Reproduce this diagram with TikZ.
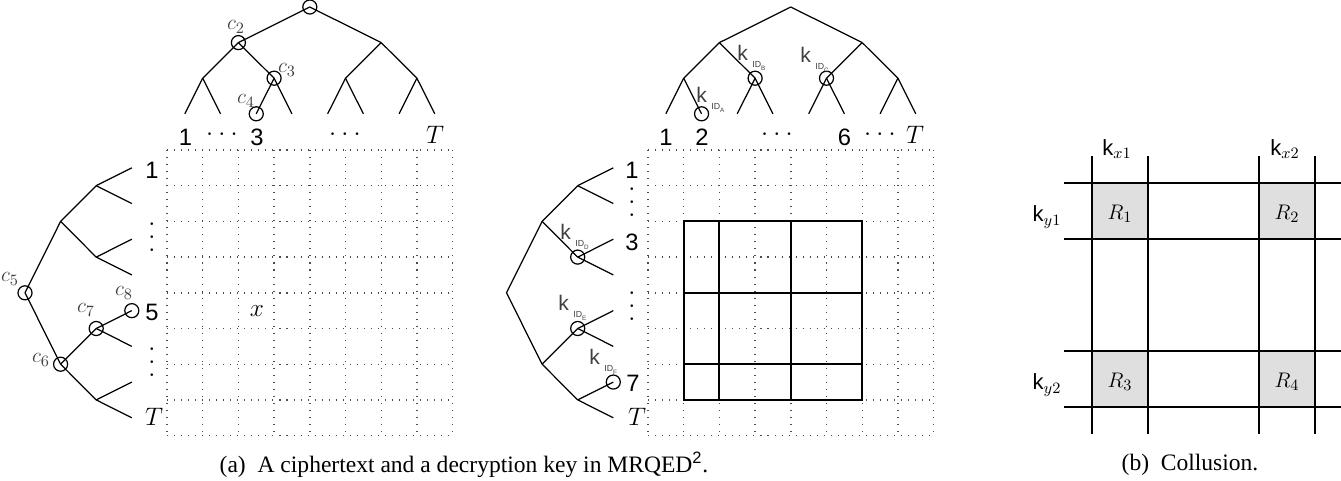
\documentclass[tikz,border=0pt]{standalone}
\usepackage{fontspec}
\setmainfont{Liberation Serif}
\setsansfont{Liberation Sans}

\newcommand{\keyid}[1]{\textsf{k}\hspace{2.5pt}\raisebox{-4.5pt}{\sffamily\fontsize{5}{6}\selectfont ID\raisebox{-1.3pt}{\fontsize{3.6}{4}\selectfont #1}}}
\newcommand{\puntjes}{$\cdot$\hspace{3pt}$\cdot$\hspace{3pt}$\cdot$}
\newcommand{\vpuntjes}{\vbox{\baselineskip=7.6pt\lineskiplimit=-10pt\hbox{$\cdot$}\hbox{$\cdot$}\hbox{$\cdot$}}}

\begin{document}
\begin{tikzpicture}[x=0.02cm, y=-0.02cm,
    tak/.style={line width=0.7pt},
    raster/.style={black!70, line width=0.8pt, dash pattern=on 0.6pt off 3.4pt},
    dik/.style={line width=1.1pt},
    lijn/.style={line width=0.7pt},
    cijfer/.style={font=\sffamily\fontsize{13.5}{16}\selectfont, inner sep=0pt},
    clab/.style={font=\fontsize{13}{15}\selectfont, text=black!75, inner sep=0pt},
    klab/.style={font=\fontsize{12}{14}\selectfont, text=black!75, inner sep=0pt, anchor=base west},
    rlab/.style={font=\fontsize{12.5}{15}\selectfont, inner sep=0pt},
    kop/.style={font=\fontsize{13.4}{15}\selectfont, inner sep=0pt}]
    \useasboundingbox (0,0) rectangle (1341,480);

    % Dotted grids
    \foreach \gx in {167,648} {
        \foreach \k in {0,...,8} {
            \draw[raster] ({\gx+35.7*\k},150) -- ({\gx+35.7*\k},435.6);
            \draw[raster] (\gx,{150+35.7*\k}) -- ({\gx+285.6},{150+35.7*\k});
        }
    }

    % Trees: name/start along leaves/start of depth/turned
    \foreach \t/\u/\v/\r in {A/167/7/0, B/648/7/0, C/150/25/1, D/150/506.5/1} {
        \foreach \d in {0,...,3} {
            \pgfmathtruncatemacro\nn{2^\d-1}
            \foreach \i in {0,...,\nn} {
                \pgfmathsetmacro\pu{\u+35.7*(\i+0.5)*2^(3-\d)}
                \pgfmathsetmacro\pv{\v+35.6*\d}
                \ifnum\r=0 \coordinate (\t\d\i) at (\pu,\pv);
                \else \coordinate (\t\d\i) at (\pv,\pu); \fi
                \ifnum\d>0
                    \pgfmathtruncatemacro\p{\i/2}
                    \pgfmathtruncatemacro\q{\d-1}
                    \draw[tak] (\t\q\p) -- (\t\d\i);
                \fi
            }
        }
    }

    % Marked nodes
    \foreach \c in {A00,A10,A21,A32,B21,B22,B31,C00,C11,C22,C34,D21,D22,D36}
        \draw[tak] (\c) circle (4pt);

    % Labels of the ciphertext nodes
    \foreach \n/\x/\y/\i in {lc1/322/-9/1, lc2/236/27/2, lc3/287/70/3, lc4/246/101/4,
                             lc5/10/279/5, lc6/41/360/6, lc7/86/310/7, lc8/124/293/8}
        \node[clab] (\n) at (\x,\y) {$c_{\i}$};

    % Labels of the key nodes
    \foreach \n/\x/\y/\s in {kA/696/102/A, kB/737/60/B, kC/800/62/C,
                             kD/560/239/D, kE/558/310/E, kF/589/364/F}
        \node[klab] (\n) at (\x,\y) {\keyid{\s}};

    % Leaf numbers
    \foreach \n/\x/\y/\s in {a1/185.5/137/1, a3/256.9/137/3, aT/435/135/$T$,
                             b1/666/137/1, b2/702/137/2, b6/844.5/137/6, bT/915/135/$T$,
                             c1/152/170/1, c5/152/312/5, cT/154/417/$T$,
                             d1/632/170/1, d3/632/242/3, d7/633/383/7, dT/637/417/$T$}
        \node[cijfer] (\n) at (\x,\y) {\s};
    \foreach \n/\x in {ah1/222, ah2/345, bh1/777, bh2/880}
        \node[cijfer] (\n) at (\x,135) {\puntjes};
    \foreach \n/\x/\y in {cv1/152/238, cv2/152/363, dv1/632/203, dv2/632/307}
        \node[cijfer] (\n) at (\x,\y) {\vpuntjes};

    \node[cijfer] (xpunt) at (257,311) {$x$};

    % Key range in the second grid
    \draw[dik] (683.7,221.4) rectangle (862.2,399.9);
    \foreach \x in {719.4,790.8} \draw[dik] (\x,221.4) -- (\x,399.9);
    \foreach \y in {292.8,364.2} \draw[dik] (683.7,\y) -- (862.2,\y);

    % Collusion
    \foreach \x/\y in {1092/183, 1259/183, 1092/351, 1259/351}
        \fill[gray!25] (\x,\y) rectangle +(56,56);
    \foreach \x in {1092,1148,1259,1315} \draw[lijn] (\x,156) -- (\x,434);
    \foreach \y in {183,239,351,407} \draw[lijn] (1064,\y) -- (1341,\y);
    \node[rlab] (kx1) at (1117,149) {$\mathsf{k}_{x1}$};
    \node[rlab] (kx2) at (1285,149) {$\mathsf{k}_{x2}$};
    \node[rlab] (ky1) at (1047,217) {$\mathsf{k}_{y1}$};
    \node[rlab] (ky2) at (1047,385) {$\mathsf{k}_{y2}$};
    \foreach \n/\x/\y/\i in {r1/1120/214/1, r2/1287/214/2, r3/1120/382/3, r4/1287/382/4}
        \node[rlab] (\n) at (\x,\y) {$R_{\i}$};

    % Captions
    \node[kop] (capa) at (464,465) {(a)\ \ A ciphertext and a decryption key in MRQED$^{\mathsf{2}}$.};
    \node[kop] (capb) at (1190,465) {(b)\ \ Collusion.};
\end{tikzpicture}
\end{document}
